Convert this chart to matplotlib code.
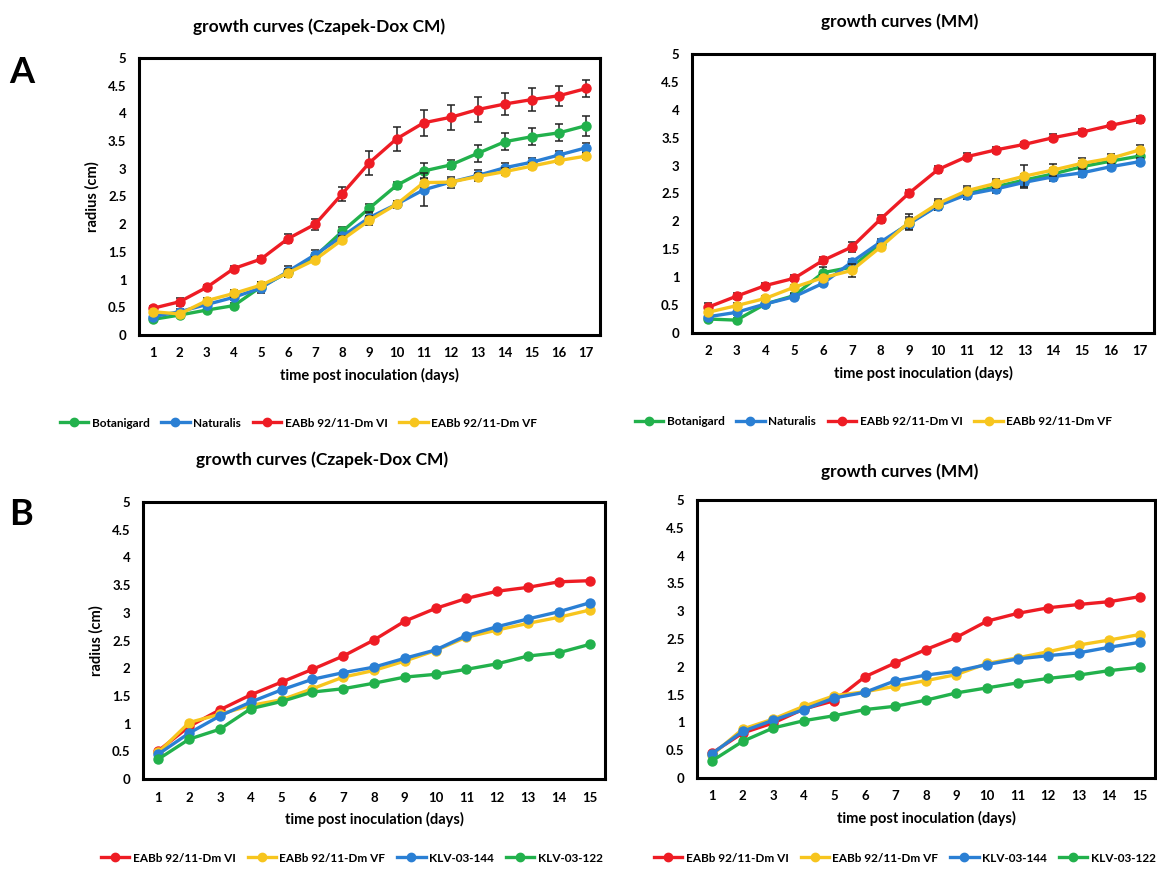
import matplotlib
matplotlib.use("Agg")
import matplotlib.pyplot as plt
from matplotlib.lines import Line2D

plt.rcParams["font.family"] = ["Lato", "DejaVu Sans"]
plt.rcParams["font.weight"] = "bold"

GREEN = "#22b14c"
BLUE = "#2a7fd4"
RED = "#ee1c24"
YELLOW = "#f7c51e"

# ---- panel A, Czapek-Dox CM (days 1-17) ----
days_a_cm = list(range(1, 18))
botanigard_cm = [0.28, 0.36, 0.45, 0.53, 0.87, 1.13, 1.42, 1.87, 2.29, 2.70, 2.96, 3.07, 3.28, 3.49, 3.58, 3.65, 3.78]
naturalis_cm = [0.33, 0.42, 0.55, 0.68, 0.85, 1.15, 1.45, 1.78, 2.12, 2.36, 2.62, 2.76, 2.88, 3.02, 3.12, 3.25, 3.38]
vi_a_cm = [0.48, 0.60, 0.86, 1.20, 1.37, 1.74, 2.00, 2.55, 3.11, 3.54, 3.83, 3.93, 4.07, 4.17, 4.25, 4.32, 4.45]
vf_a_cm = [0.42, 0.38, 0.62, 0.75, 0.90, 1.12, 1.36, 1.72, 2.07, 2.36, 2.75, 2.76, 2.86, 2.95, 3.05, 3.15, 3.23]
botanigard_cm_err = [0.03, 0.03, 0.04, 0.04, 0.05, 0.05, 0.06, 0.08, 0.08, 0.06, 0.15, 0.08, 0.15, 0.15, 0.15, 0.15, 0.18]
naturalis_cm_err = [0.03, 0.05, 0.05, 0.05, 0.10, 0.10, 0.08, 0.06, 0.10, 0.06, 0.30, 0.10, 0.10, 0.08, 0.08, 0.08, 0.08]
vi_a_cm_err = [0.05, 0.07, 0.04, 0.05, 0.05, 0.08, 0.10, 0.13, 0.22, 0.22, 0.23, 0.23, 0.22, 0.20, 0.20, 0.18, 0.15]
vf_a_cm_err = [0.03, 0.04, 0.04, 0.06, 0.05, 0.07, 0.05, 0.06, 0.08, 0.05, 0.08, 0.05, 0.06, 0.06, 0.05, 0.05, 0.05]

# ---- panel A, MM (days 2-17) ----
days_a_mm = list(range(2, 18))
botanigard_mm = [0.25, 0.23, 0.52, 0.67, 1.08, 1.18, 1.60, 1.97, 2.29, 2.50, 2.62, 2.74, 2.85, 2.98, 3.08, 3.17]
naturalis_mm = [0.29, 0.37, 0.52, 0.65, 0.89, 1.27, 1.63, 1.96, 2.28, 2.48, 2.58, 2.70, 2.80, 2.87, 2.98, 3.07]
vi_a_mm = [0.46, 0.66, 0.85, 0.98, 1.30, 1.54, 2.04, 2.51, 2.93, 3.16, 3.28, 3.38, 3.50, 3.60, 3.72, 3.83]
vf_a_mm = [0.37, 0.49, 0.62, 0.82, 0.99, 1.12, 1.54, 1.99, 2.32, 2.55, 2.68, 2.81, 2.92, 3.04, 3.13, 3.28]
botanigard_mm_err = [0.04, 0.04, 0.04, 0.04, 0.10, 0.06, 0.06, 0.10, 0.08, 0.10, 0.10, 0.10, 0.10, 0.10, 0.08, 0.08]
naturalis_mm_err = [0.04, 0.04, 0.04, 0.04, 0.05, 0.06, 0.06, 0.08, 0.08, 0.08, 0.08, 0.10, 0.08, 0.08, 0.06, 0.06]
vi_a_mm_err = [0.08, 0.05, 0.04, 0.05, 0.07, 0.09, 0.07, 0.06, 0.06, 0.06, 0.06, 0.05, 0.06, 0.06, 0.05, 0.06]
vf_a_mm_err = [0.04, 0.04, 0.04, 0.04, 0.05, 0.12, 0.06, 0.14, 0.08, 0.08, 0.08, 0.20, 0.10, 0.10, 0.08, 0.08]

# ---- panel B, Czapek-Dox CM (days 1-15) ----
days_b = list(range(1, 16))
vi_b_cm = [0.51, 0.95, 1.25, 1.52, 1.75, 1.98, 2.22, 2.51, 2.85, 3.08, 3.26, 3.39, 3.46, 3.56, 3.58]
vf_b_cm = [0.48, 1.02, 1.17, 1.33, 1.43, 1.63, 1.84, 1.96, 2.13, 2.32, 2.56, 2.69, 2.81, 2.92, 3.05]
klv144_cm = [0.45, 0.83, 1.14, 1.39, 1.61, 1.80, 1.92, 2.02, 2.18, 2.33, 2.59, 2.75, 2.89, 3.02, 3.18]
klv122_cm = [0.36, 0.72, 0.90, 1.27, 1.40, 1.57, 1.63, 1.73, 1.84, 1.89, 1.98, 2.08, 2.22, 2.28, 2.43]

# ---- panel B, MM (days 1-15) ----
vi_b_mm = [0.45, 0.81, 0.99, 1.24, 1.39, 1.82, 2.07, 2.31, 2.53, 2.82, 2.96, 3.06, 3.12, 3.17, 3.26]
vf_b_mm = [0.42, 0.88, 1.06, 1.29, 1.48, 1.55, 1.65, 1.75, 1.86, 2.06, 2.16, 2.27, 2.39, 2.48, 2.58]
klv144_mm = [0.44, 0.84, 1.04, 1.23, 1.44, 1.54, 1.75, 1.85, 1.92, 2.04, 2.14, 2.20, 2.25, 2.35, 2.44]
klv122_mm = [0.31, 0.66, 0.90, 1.03, 1.12, 1.23, 1.29, 1.40, 1.53, 1.62, 1.71, 1.79, 1.85, 1.93, 1.99]

names_a = ["Botanigard", "Naturalis", "EABb 92/11-Dm VI", "EABb 92/11-Dm VF"]
colors_a = [GREEN, BLUE, RED, YELLOW]
names_b = ["EABb 92/11-Dm VI", "EABb 92/11-Dm VF", "KLV-03-144", "KLV-03-122"]
colors_b = [RED, YELLOW, BLUE, GREEN]

yticks = [0, 0.5, 1, 1.5, 2, 2.5, 3, 3.5, 4, 4.5, 5]
ytick_labels = ["0", "0.5", "1", "1.5", "2", "2.5", "3", "3.5", "4", "4.5", "5"]


def style_axes(ax, days, xlim, ylabel=True):
    ax.set_xlim(*xlim)
    ax.set_ylim(0, 5)
    ax.set_xticks(days)
    ax.set_xticklabels([str(d) for d in days])
    ax.set_yticks(yticks)
    ax.set_yticklabels(ytick_labels)
    ax.tick_params(length=0, labelsize=9.5, pad=9)
    for lbl in ax.get_xticklabels() + ax.get_yticklabels():
        lbl.set_fontweight("bold")
    for sp in ax.spines.values():
        sp.set_linewidth(2.2)
        sp.set_color("black")
    ax.set_xlabel("time post inoculation (days)", fontsize=10.5, fontweight="bold", labelpad=6)
    if ylabel:
        ax.set_ylabel("radius (cm)", fontsize=10.5, fontweight="bold", labelpad=6)


def draw_series(ax, days, series, colors, errs=None):
    for i, (vals, c) in enumerate(zip(series, colors)):
        if errs is not None:
            ax.errorbar(days, vals, yerr=errs[i], fmt="none", ecolor="#222222",
                        elinewidth=1.1, capsize=3.2, capthick=1.1, zorder=2 + i)
        ax.plot(days, vals, color=c, lw=2.4, marker="o", ms=6.5, zorder=3 + i)


fig = plt.figure(figsize=(11.57, 8.76), dpi=100)

ax1 = fig.add_axes([0.1201, 0.6176, 0.3984, 0.3162])
draw_series(ax1, days_a_cm, [botanigard_cm, naturalis_cm, vi_a_cm, vf_a_cm], colors_a,
            [botanigard_cm_err, naturalis_cm_err, vi_a_cm_err, vf_a_cm_err])
style_axes(ax1, days_a_cm, (0.5, 17.5))

ax2 = fig.add_axes([0.5981, 0.6199, 0.3993, 0.3185])
draw_series(ax2, days_a_mm, [botanigard_mm, naturalis_mm, vi_a_mm, vf_a_mm], colors_a,
            [botanigard_mm_err, naturalis_mm_err, vi_a_mm_err, vf_a_mm_err])
style_axes(ax2, days_a_mm, (1.45, 17.5), ylabel=False)

ax3 = fig.add_axes([0.1236, 0.1107, 0.3993, 0.3162])
draw_series(ax3, days_b, [vi_b_cm, vf_b_cm, klv144_cm, klv122_cm], colors_b)
style_axes(ax3, days_b, (0.5, 15.5))

ax4 = fig.add_axes([0.6024, 0.1119, 0.3958, 0.3174])
draw_series(ax4, days_b, [vi_b_mm, vf_b_mm, klv144_mm, klv122_mm], colors_b)
style_axes(ax4, days_b, (0.5, 15.5), ylabel=False)

# titles
fig.text(0.276, 0.969, "growth curves (Czapek-Dox CM)", ha="center", va="center", fontsize=12.5, fontweight="bold")
fig.text(0.778, 0.975, "growth curves (MM)", ha="center", va="center", fontsize=12.5, fontweight="bold")
fig.text(0.278, 0.475, "growth curves (Czapek-Dox CM)", ha="center", va="center", fontsize=12.5, fontweight="bold")
fig.text(0.778, 0.462, "growth curves (MM)", ha="center", va="center", fontsize=12.5, fontweight="bold")

# panel letters
fig.text(0.008, 0.917, "A", fontsize=26, fontweight="bold", va="center")
fig.text(0.008, 0.413, "B", fontsize=26, fontweight="bold", va="center")


def add_legend(names, colors, x, y):
    handles = [Line2D([0], [0], color=c, lw=2.4, marker="o", ms=6) for c in colors]
    fig.legend(handles, names, loc="center", bbox_to_anchor=(x, y), ncol=4, frameon=False,
               handlelength=2.4, handletextpad=0.3, columnspacing=1.0,
               prop={"weight": "bold", "size": 8.5})


add_legend(names_a, colors_a, 0.258, 0.517)
add_legend(names_a, colors_a, 0.755, 0.519)
add_legend(names_b, colors_b, 0.304, 0.0205)
add_legend(names_b, colors_b, 0.782, 0.0205)

fig.savefig("out.png", dpi=100)
